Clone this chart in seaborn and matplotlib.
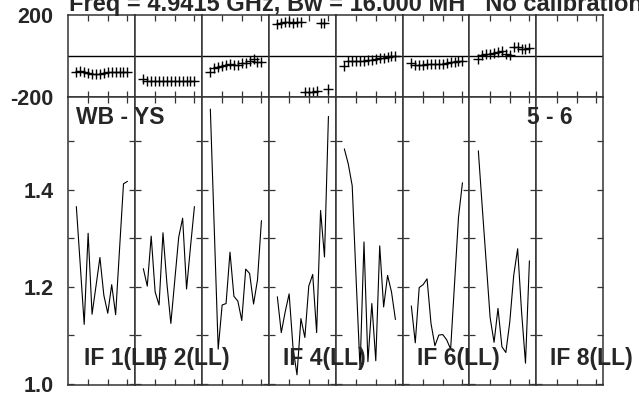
import numpy as np
import pandas as pd
import seaborn as sns
import matplotlib
matplotlib.use('Agg')
import matplotlib.pyplot as plt

# channels 2..15 for every IF
channels = list(range(2, 16))
if_names = ['IF 1', 'IF 2', 'IF 3', 'IF 4', 'IF 5', 'IF 6', 'IF 7', 'IF 8']

# amplitude per IF (IF 8 has no data)
amp_if1 = [1.365, 1.244, 1.122, 1.310, 1.143, 1.201, 1.260, 1.182, 1.145, 1.204, 1.142, 1.278, 1.412, 1.417]
amp_if2 = [1.237, 1.201, 1.304, 1.189, 1.162, 1.311, 1.206, 1.124, 1.213, 1.302, 1.341, 1.195, 1.282, 1.365]
amp_if3 = [1.566, 1.319, 1.071, 1.162, 1.165, 1.271, 1.180, 1.170, 1.130, 1.236, 1.227, 1.164, 1.214, 1.336]
amp_if4 = [1.179, 1.105, 1.148, 1.185, 1.073, 1.018, 1.134, 1.095, 1.201, 1.225, 1.105, 1.357, 1.261, 1.551]
amp_if5 = [1.484, 1.453, 1.408, 1.215, 1.030, 1.292, 1.045, 1.165, 1.047, 1.284, 1.158, 1.223, 1.189, 1.132]
amp_if6 = [1.160, 1.084, 1.198, 1.204, 1.216, 1.124, 1.078, 1.100, 1.101, 1.090, 1.071, 1.207, 1.343, 1.414]
amp_if7 = [1.480, 1.363, 1.250, 1.136, 1.085, 1.155, 1.076, 1.064, 1.127, 1.223, 1.278, 1.148, 1.042, 1.253]

# phase in degrees
ph_if1 = [-76, -72, -80, -85, -86, -90, -86, -82, -80, -76, -79, -77, -79, -79]
ph_if2 = [-112, -122, -124, -122, -124, -121, -121, -120, -122, -121, -120, -122, -121, -121]
ph_if3 = [-76, -57, -52, -50, -46, -40, -42, -44, -36, -32, -24, -17, -28, -28]
ph_if4 = [158, 163, 165, 164, 163, 165, 164, -178, -176, -174, -172, 163, 162, -162]
ph_if5 = [-48, -25, -24, -23, -23, -23, -20, -18, -14, -12, -8, -4, -2, -2]
ph_if6 = [-32, -42, -44, -42, -41, -40, -40, -39, -37, -35, -30, -27, -24, -22]
ph_if7 = [-13, 5, 10, 12, 16, 20, 26, 8, 5, 42, 45, 33, 32, 40]

amps = [amp_if1, amp_if2, amp_if3, amp_if4, amp_if5, amp_if6, amp_if7]
phases = [ph_if1, ph_if2, ph_if3, ph_if4, ph_if5, ph_if6, ph_if7]

rows = []
for name, a, p in zip(if_names, amps, phases):
    for c, av, pv in zip(channels, a, p):
        rows.append({'IF': name, 'chan': c, 'amp': av, 'phase': pv})
df = pd.DataFrame(rows)

# labels as they appear in the panels
if_labels = ['IF 1(LL)', 'IF 2(LL)', 'IF 4(LL)', 'IF 6(LL)', 'IF 8(LL)']
if_label_x = [84, 147, 283, 417, 550]

sns.set_style('white')
plt.rcParams['font.family'] = ['Liberation Sans', 'DejaVu Sans']
plt.rcParams['font.weight'] = 'bold'

W, H = 639, 394
fig = plt.figure(figsize=(W / 100, H / 100), dpi=100)
gs = fig.add_gridspec(2, 8, left=67.5 / W, right=603.5 / W, top=1 - 15 / H,
                      bottom=1 - 385 / H, height_ratios=[82, 288],
                      wspace=0, hspace=0)

for i, name in enumerate(if_names):
    axp = fig.add_subplot(gs[0, i])
    axa = fig.add_subplot(gs[1, i])
    sub = df[df.IF == name]
    if len(sub):
        sns.scatterplot(data=sub, x='chan', y='phase', ax=axp, marker='+',
                        color='k', s=50, linewidth=1.0)
        sns.lineplot(data=sub, x='chan', y='amp', ax=axa, color='k',
                     linewidth=0.8)
    axp.axhline(0, color='k', lw=1.0)
    for ax in (axp, axa):
        ax.set_xlim(-0.25, 16.8)
        ax.set_xticks([5, 10, 15])
        ax.set_xticklabels([])
        ax.set_xlabel('')
        ax.set_ylabel('')
        for s in ax.spines.values():
            s.set_color('#333333')
            s.set_linewidth(1.1)
        ax.tick_params(direction='in', top=True, bottom=True, left=True,
                       right=True, length=4, width=0.9, color='#333333',
                       labelsize=15.5, pad=10)
    axp.set_ylim(-200, 200)
    axp.set_yticks([-200, 200])
    axp.tick_params(axis='y', length=0)
    axa.set_ylim(0.997, 1.591)
    axa.set_yticks([1.0, 1.1, 1.2, 1.3, 1.4, 1.5])
    if i == 0:
        axp.set_yticklabels(['-200', '200'])
        axa.set_yticklabels(['1.0', '', '1.2', '', '1.4', ''])
    else:
        axp.set_yticklabels([])
        axa.set_yticklabels([])

fig.text(69 / W, 1 - 11 / H, 'Freq = 4.9415 GHz, Bw = 16.000 MH   No calibration',
         fontsize=17, weight='bold', va='baseline')
fig.text(76 / W, 1 - 124 / H, 'WB - YS', fontsize=16.5, weight='bold', va='baseline')
fig.text(527 / W, 1 - 124 / H, '5 - 6', fontsize=16.5, weight='bold', va='baseline')
for lab, x in zip(if_labels, if_label_x):
    fig.text(x / W, 1 - 365 / H, lab, fontsize=16.5, weight='bold', va='baseline')

fig.savefig('out.png', dpi=100)
